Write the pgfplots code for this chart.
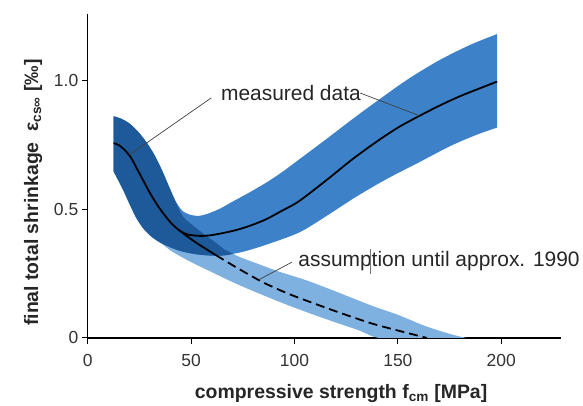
\documentclass[border=0pt]{standalone}
\usepackage{fontspec}
\setmainfont{Liberation Sans}
\usepackage{pgfplots}
\pgfplotsset{compat=1.18}
\usepgfplotslibrary{fillbetween}

\definecolor{bdark}{RGB}{30,89,154}
\definecolor{bmid}{RGB}{61,130,200}
\definecolor{blight}{RGB}{126,176,224}

\begin{document}
\begin{tikzpicture}
\begin{axis}[
  scale only axis, width=475pt, height=325pt,
  xmin=0, xmax=229, ymin=0, ymax=1.26,
  axis lines=left, axis line style={-, line width=1.5pt},
  tick align=outside, major tick length=6pt,
  tick style={line width=1pt, black},
  xtick={0,50,100,150,200}, ytick={0,0.5,1.0}, yticklabels={0,0.5,1.0},
  ticklabel style={font=\fontsize{17.5}{20}\selectfont, text=black!80},
  xticklabel style={yshift=-7pt},
  /pgf/number format/assume math mode=true,
  xlabel={compressive strength f\textsubscript{cm} [MPa]},
  ylabel={final total shrinkage\ \ ε\textsubscript{cs∞} [‰]},
  label style={font=\bfseries\fontsize{19.5}{22}\selectfont, text=black!85},
  xlabel style={at={(rel axis cs:0.535,-0.186)}, anchor=base},
  ylabel style={at={(rel axis cs:-0.105,0.449)}, anchor=base},
  clip mode=individual,
]
% band edges
\addplot[draw=none, smooth, name path=uM] coordinates {
  (12.5,0.862) (16,0.853) (20,0.835) (24,0.805) (28,0.765) (32,0.715)
  (36,0.65) (40,0.575) (43,0.525) (46,0.493) (50,0.478) (54,0.475)
  (58,0.483) (64,0.503) (70,0.53) (78,0.565) (86.1,0.603) (94,0.645)
  (102.2,0.694) (115,0.771) (127.7,0.849) (140.7,0.926) (155,1.007)
  (170,1.08) (185,1.14) (198,1.182)};
\addplot[draw=none, smooth, name path=lM] coordinates {
  (12.5,0.648) (17,0.578) (20,0.525) (23.5,0.467) (27,0.425) (31,0.393)
  (36,0.367) (44,0.34) (52,0.326) (60,0.32) (66,0.321) (70.3,0.327)
  (76,0.337) (86.1,0.362) (102.2,0.41) (115,0.472) (130,0.55) (145,0.62)
  (160,0.682) (175,0.745) (188,0.79) (198,0.818)};
\addplot[draw=none, smooth, name path=uA] coordinates {
  (12.5,0.862) (16,0.853) (20,0.835) (24,0.805) (28,0.765) (32,0.715)
  (36,0.65) (40,0.575) (43,0.52) (46,0.473) (50,0.443) (56,0.405)
  (62,0.37) (66,0.345) (70.3,0.327) (74,0.313) (81,0.292) (92.5,0.258)
  (105.4,0.225) (117,0.19) (137.5,0.125) (150,0.09) (163,0.047)
  (175,0.016) (183,0)};
\addplot[draw=none, smooth, name path=lA] coordinates {
  (12.5,0.648) (17,0.578) (20,0.525) (23.5,0.467) (27,0.425) (31,0.393)
  (36,0.365) (41,0.335) (50,0.295) (60,0.256) (72,0.21) (84.3,0.168)
  (96,0.13) (108,0.094) (120,0.06) (131,0.03) (141,0) (160,0) (183,0)};

\addplot[fill=blight, draw=none] fill between[of=uA and lA];
\addplot[fill=bmid, draw=none] fill between[of=uM and lM];
\addplot[fill=bdark, draw=none] fill between[of=uA and lM,
  soft clip={domain=0:70.3}];

% mean lines
\addplot[black, line width=1.8pt, smooth] coordinates {
  (12.5,0.758) (15,0.75) (18,0.73) (21,0.70) (24,0.655) (27,0.61)
  (30,0.565) (33,0.525) (36,0.49) (40,0.45) (44,0.42) (48,0.403)
  (54,0.397) (60,0.40) (70,0.416) (78,0.435) (86.1,0.461) (94,0.495)
  (102.2,0.532) (115.8,0.616) (128,0.695) (140,0.765) (150,0.818)
  (160,0.862) (170,0.903) (180,0.94) (190,0.972) (198,0.997)};
\addplot[black, line width=1.8pt, smooth] coordinates {
  (44,0.42) (50,0.384) (56,0.352) (62,0.322)};
\addplot[black, line width=1.8pt, smooth, dash pattern=on 9pt off 5pt] coordinates {
  (62,0.322) (70,0.283) (78,0.246) (86.1,0.211) (97.3,0.171) (110.2,0.132)
  (123,0.095) (137.5,0.056) (150.4,0.028) (161.6,0.005) (164,0)};

% annotations
\draw[black!75, line width=0.7pt] (axis cs:59.8,0.934) -- (axis cs:20.2,0.712);
\draw[black!75, line width=0.7pt] (axis cs:131.6,0.953) -- (axis cs:160.5,0.864);
\draw[black!75, line width=0.7pt] (axis cs:98.8,0.295) -- (axis cs:82.9,0.227);
\node[anchor=base west, font=\fontsize{21}{24}\selectfont, text=black!85]
  at (axis cs:62.8,0.925) {measured data};
\node[anchor=base west, font=\fontsize{21}{24}\selectfont, text=black!85]
  at (axis cs:100.2,0.278) {assumption until approx. 1990};
\draw[black!55, line width=0.5pt] (axis cs:136.4,0.345) -- (axis cs:136.4,0.248);

\path (rel axis cs:-0.1853,-0.1938) rectangle (rel axis cs:1.0421,1.0431);
\end{axis}
\end{tikzpicture}
\end{document}
